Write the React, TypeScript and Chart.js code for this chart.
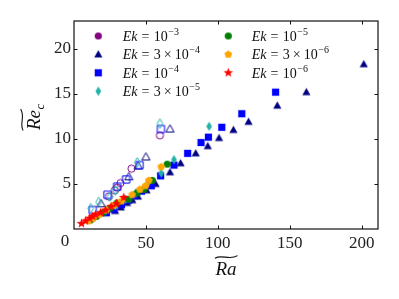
import React, { useEffect, useRef } from 'react';
import { Chart, registerables } from 'chart.js';
Chart.register(...registerables);

// ---------- data ----------
const xTickValues = [0, 50, 100, 150, 200];
const yTickValues = [0, 5, 10, 15, 20];

// open markers (upper branch)
const ek1e3Open = [[24.2, 3.6], [28.4, 4.3], [30.0, 4.6], [32.3, 5.1], [40.0, 6.7], [59.7, 10.4]];
const ek3e4Open = [[18.8, 2.8], [38.1, 5.8], [44.6, 7.0], [50.0, 8.0], [66.7, 11.1]];
const ek1e4Open = [[13.0, 2.1], [23.2, 3.8], [30.0, 4.7], [36.2, 5.5], [45.6, 7.1], [60.4, 11.1]];
const ek3e5Open = [[11.6, 2.3], [17.2, 3.0], [24.9, 3.6], [28.8, 4.3], [43.9, 7.4], [59.7, 11.7]];

// filled markers (lower branch)
const ek3e4Filled = [[28.5, 2.0], [32.5, 2.4], [36.9, 2.9], [40.5, 3.2], [44.4, 3.6], [50.4, 4.3], [56.7, 5.0], [66.7, 6.3], [74.1, 7.3], [84.6, 8.4], [93.0, 9.2], [100.8, 10.1], [110.8, 11.0], [121.3, 11.9], [141.3, 13.7], [161.5, 15.2], [201.4, 18.3]];
const ek1e4Filled = [[22.5, 1.8], [27.7, 2.2], [33.0, 2.7], [38.0, 3.2], [42.0, 3.7], [47.0, 4.2], [53.7, 4.8], [60.2, 5.9], [69.5, 7.1], [79.0, 8.4], [88.3, 9.6], [93.4, 10.2], [102.7, 11.3], [116.6, 12.8], [140.1, 15.2]];
const ek3e5Filled = [[16.5, 1.5], [22.0, 2.0], [29.0, 2.6], [36.0, 3.3], [43.0, 4.0], [51.5, 5.1], [60.6, 6.2], [69.5, 7.7], [93.9, 11.4]];
const ek1e5Filled = [[11.5, 1.0], [15.5, 1.4], [20.0, 1.8], [25.0, 2.3], [30.0, 2.9], [38.1, 3.3], [43.9, 4.0], [48.6, 4.4], [54.4, 5.4], [64.8, 7.2]];
const ek3e6Filled = [[10.0, 0.9], [13.5, 1.2], [17.5, 1.6], [22.5, 2.1], [27.5, 2.6], [33.0, 3.1], [40.4, 3.8], [45.8, 4.4], [49.7, 4.8], [52.0, 5.4], [60.6, 6.9]];
const ek1e6Filled = [[5.2, 0.6], [8.0, 0.9], [10.9, 1.2], [13.0, 1.4], [14.9, 1.6], [18.4, 1.8], [21.9, 2.1], [25.8, 2.5], [29.5, 2.8], [34.6, 3.5]];

// legend entries: coefficient and exponent of Ek
const legendCoefs = ['', '3', '', '3', '', '3', ''];
const legendExps = ['−3', '−4', '−4', '−5', '−5', '−6', '−6'];
const legendColors = ['#800080', '#000080', '#0000ff', '#20b2aa', '#008000', '#ffa500', '#ff0000'];
const legendShapes = ['circle', 'triangle', 'square', 'diamond', 'circle', 'pentagon', 'star'];

const SERIF = '"Liberation Serif", "DejaVu Serif", serif';

function makeMarker(shape: string, color: string, filled: boolean): HTMLCanvasElement {
  const size = 13;
  const c = document.createElement('canvas');
  c.width = size;
  c.height = size;
  const g = c.getContext('2d')!;
  const m = size / 2;
  g.beginPath();
  if (shape === 'circle') {
    g.arc(m, m, 3.6, 0, Math.PI * 2);
  } else if (shape === 'triangle') {
    g.moveTo(m, m - 4.3);
    g.lineTo(m + 4.1, m + 3.0);
    g.lineTo(m - 4.1, m + 3.0);
    g.closePath();
  } else if (shape === 'square') {
    g.rect(m - 3.6, m - 3.6, 7.2, 7.2);
  } else if (shape === 'diamond') {
    g.moveTo(m, m - 4.8);
    g.lineTo(m + 2.8, m);
    g.lineTo(m, m + 4.8);
    g.lineTo(m - 2.8, m);
    g.closePath();
  } else if (shape === 'pentagon') {
    for (let i = 0; i < 5; i++) {
      const a = -Math.PI / 2 + (i * 2 * Math.PI) / 5;
      const px = m + 4.1 * Math.cos(a);
      const py = m + 4.1 * Math.sin(a);
      if (i === 0) g.moveTo(px, py); else g.lineTo(px, py);
    }
    g.closePath();
  } else if (shape === 'star') {
    for (let i = 0; i < 10; i++) {
      const a = -Math.PI / 2 + (i * Math.PI) / 5;
      const r = i % 2 === 0 ? 5.0 : 2.1;
      const px = m + r * Math.cos(a);
      const py = m + r * Math.sin(a);
      if (i === 0) g.moveTo(px, py); else g.lineTo(px, py);
    }
    g.closePath();
  }
  if (filled) {
    g.fillStyle = color;
    g.fill();
  } else {
    g.strokeStyle = color;
    g.lineWidth = 1;
    g.stroke();
  }
  return c;
}

function toPts(arr: number[][]) {
  return arr.map(([x, y]) => ({ x, y }));
}

function drawTilde(ctx: CanvasRenderingContext2D, x0: number, w: number, ty: number) {
  ctx.beginPath();
  ctx.moveTo(x0, ty + 1.2);
  ctx.bezierCurveTo(x0 + w * 0.3, ty - 3.0, x0 + w * 0.65, ty + 3.6, x0 + w, ty - 1.4);
  ctx.lineWidth = 1.1;
  ctx.stroke();
}

const decorPlugin = {
  id: 'decor',
  afterDraw(chart: any) {
    const ctx: CanvasRenderingContext2D = chart.ctx;
    const { left, right, top, bottom } = chart.chartArea;
    const xs = chart.scales.x;
    const ys = chart.scales.y;
    ctx.save();
    // frame
    ctx.strokeStyle = '#111';
    ctx.lineWidth = 1.2;
    ctx.strokeRect(left, top, right - left, bottom - top);
    // inward ticks on four sides
    ctx.lineWidth = 1;
    const tl = 3.5;
    ctx.beginPath();
    xTickValues.forEach((v) => {
      const px = Math.round(xs.getPixelForValue(v)) + 0.5;
      if (px <= left + 1 || px >= right - 1) return;
      ctx.moveTo(px, bottom); ctx.lineTo(px, bottom - tl);
      ctx.moveTo(px, top); ctx.lineTo(px, top + tl);
    });
    yTickValues.forEach((v) => {
      const py = Math.round(ys.getPixelForValue(v)) + 0.5;
      if (py <= top + 1 || py >= bottom - 1) return;
      ctx.moveTo(left, py); ctx.lineTo(left + tl, py);
      ctx.moveTo(right, py); ctx.lineTo(right - tl, py);
    });
    ctx.stroke();

    // the "0" tick label of the x axis
    ctx.fillStyle = '#222';
    ctx.font = '17px ' + SERIF;
    ctx.textAlign = 'center';
    ctx.textBaseline = 'alphabetic';
    ctx.fillText(String(xTickValues[0]), xs.getPixelForValue(xTickValues[0]) - 9, bottom + 17);

    // x title: widetilde Ra
    ctx.fillStyle = '#111';
    ctx.strokeStyle = '#111';
    ctx.textAlign = 'left';
    ctx.font = 'italic 19px ' + SERIF;
    const tx = 'Ra';
    const tw = ctx.measureText(tx).width;
    const cx = (left + right) / 2;
    const xb = 275;
    ctx.fillText(tx, cx - tw / 2, xb);
    drawTilde(ctx, cx - tw / 2 - 0.5, tw + 1.5, xb - 18);

    // y title: widetilde Re with subscript c (rotated)
    ctx.save();
    ctx.translate(40, 130);
    ctx.rotate(-Math.PI / 2);
    ctx.font = 'italic 19px ' + SERIF;
    const rw = ctx.measureText('Re').width;
    ctx.fillText('Re', 0, 0);
    ctx.font = 'italic 13px ' + SERIF;
    ctx.fillText('c', rw + 0.5, 3.5);
    drawTilde(ctx, -0.5, rw + 1.5, -18);
    ctx.restore();

    // legend (two columns, no frame)
    const colMarkerX = [98.3, 228.3];
    const colTextX = [122.7, 251.7];
    const baseline0 = 41;
    const rowGap = 18.4;
    for (let i = 0; i < legendExps.length; i++) {
      const col = i < 4 ? 0 : 1;
      const row = i < 4 ? i : i - 4;
      const bl = baseline0 + row * rowGap;
      const mk = legendMarkers[i];
      ctx.drawImage(mk, colMarkerX[col] - mk.width / 2, bl - 5 - mk.height / 2);
      let x = colTextX[col];
      ctx.fillStyle = '#111';
      ctx.font = 'italic 14px ' + SERIF;
      ctx.fillText('Ek', x, bl);
      x += ctx.measureText('Ek').width + 4;
      ctx.font = '14px ' + SERIF;
      ctx.fillText('=', x, bl);
      x += ctx.measureText('=').width + 4.5;
      if (legendCoefs[i]) {
        ctx.fillText(legendCoefs[i], x, bl);
        x += ctx.measureText(legendCoefs[i]).width + 3;
        ctx.fillText('×', x, bl);
        x += ctx.measureText('×').width + 3;
      }
      ctx.fillText('10', x, bl);
      x += ctx.measureText('10').width + 0.5;
      ctx.font = '10px ' + SERIF;
      ctx.fillText(legendExps[i], x, bl - 6);
    }
    ctx.restore();
  },
};

let legendMarkers: HTMLCanvasElement[] = [];

export default function App() {
  const ref = useRef<HTMLCanvasElement>(null);
  useEffect(() => {
    if (!ref.current) return;
    legendMarkers = legendShapes.map((s, i) => makeMarker(s, legendColors[i], true));
    const series = [
      { data: ek1e3Open, shape: 'circle', color: legendColors[0], filled: false },
      { data: ek3e4Open, shape: 'triangle', color: legendColors[1], filled: false },
      { data: ek3e4Filled, shape: 'triangle', color: legendColors[1], filled: true },
      { data: ek1e4Open, shape: 'square', color: legendColors[2], filled: false },
      { data: ek1e4Filled, shape: 'square', color: legendColors[2], filled: true },
      { data: ek3e5Open, shape: 'diamond', color: legendColors[3], filled: false },
      { data: ek3e5Filled, shape: 'diamond', color: legendColors[3], filled: true },
      { data: ek1e5Filled, shape: 'circle', color: legendColors[4], filled: true },
      { data: ek3e6Filled, shape: 'pentagon', color: legendColors[5], filled: true },
      { data: ek1e6Filled, shape: 'star', color: legendColors[6], filled: true },
    ];
    // Chart.js paints the first dataset on top; reverse so later series sit on top
    const datasets = series
      .map((s) => ({
        data: toPts(s.data),
        pointStyle: makeMarker(s.shape, s.color, s.filled) as any,
        pointRadius: 4,
        pointHoverRadius: 4,
        backgroundColor: s.color,
        borderColor: s.color,
        showLine: false,
      }))
      .reverse();

    const chart = new Chart(ref.current, {
      type: 'scatter',
      data: { datasets },
      options: {
        responsive: false,
        animation: false,
        layout: { padding: { left: 0, top: 21, right: 21, bottom: 0 } },
        plugins: { legend: { display: false }, tooltip: { enabled: false } },
        scales: {
          x: {
            type: 'linear',
            min: 0,
            max: 211.3,
            grid: { display: false, drawTicks: false },
            border: { display: false },
            afterBuildTicks: (s: any) => { s.ticks = xTickValues.map((v) => ({ value: v })); },
            afterFit: (s: any) => { s.height = 70; },
            ticks: {
              padding: 4,
              color: '#222',
              font: { family: SERIF, size: 17 },
              maxRotation: 0,
              callback: (v: any) => (v === 0 ? '' : String(v)),
            },
          },
          y: {
            type: 'linear',
            min: 0,
            max: 23.1,
            grid: { display: false, drawTicks: false },
            border: { display: false },
            afterBuildTicks: (s: any) => { s.ticks = yTickValues.map((v) => ({ value: v })); },
            afterFit: (s: any) => { s.width = 74; },
            ticks: {
              padding: 3,
              color: '#222',
              font: { family: SERIF, size: 17 },
              callback: (v: any) => (v === 0 ? '' : String(v)),
            },
          },
        },
      },
      plugins: [decorPlugin],
    });
    return () => chart.destroy();
  }, []);
  return (
    <div style={{ position: 'fixed', left: 0, top: 0, width: 399, height: 299, background: '#fff' }}>
      <canvas ref={ref} width={399} height={299} style={{ display: 'block' }} />
    </div>
  );
}
